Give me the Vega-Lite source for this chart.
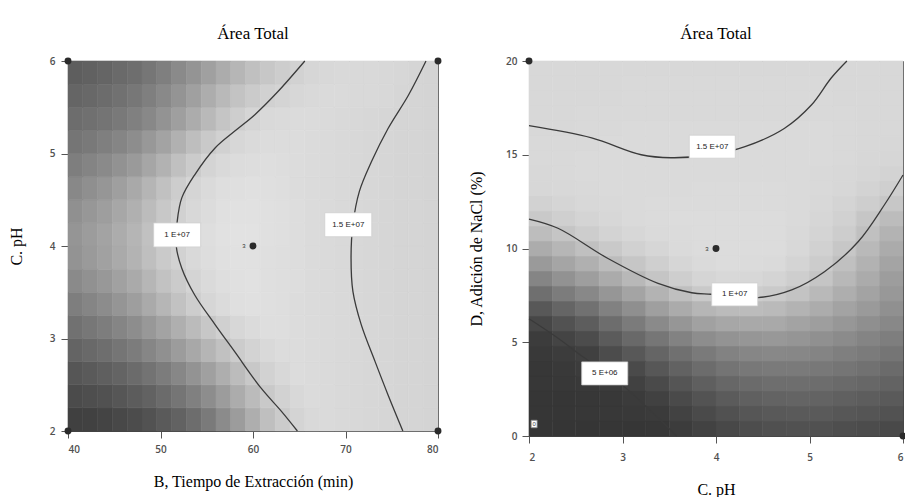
{
"$schema": "https://vega.github.io/schema/vega-lite/v6.json",
"padding": {"left": 8, "top": 25, "right": 0, "bottom": 0},
"background": "#ffffff",
"columns": 2,
"align": "none",
"spacing": 26,
"config": {
 "view": {"stroke": null},
 "font": "Liberation Sans",
 "title": {"font": "Liberation Serif", "fontSize": 17, "fontWeight": "normal", "color": "#000000"},
 "axis": {"grid": false, "domainColor": "#444444", "tickColor": "#555555", "labelColor": "#505050", "labelFont": "Open Sans", "labelFontSize": 10, "labelFontWeight": 600, "titleFont": "Liberation Serif", "titleFontSize": 16, "titleFontWeight": "normal", "titleColor": "#000000", "tickSize": 7, "zindex": 1}
},
"datasets": {
 "heatL": [
{"x":40.8,"y":2.125,"z":64},{"x":42.4,"y":2.125,"z":65},{"x":44,"y":2.125,"z":68},{"x":45.6,"y":2.125,"z":72},{"x":47.2,"y":2.125,"z":76},{"x":48.8,"y":2.125,"z":82},{"x":50.4,"y":2.125,"z":90},{"x":52,"y":2.125,"z":98},{"x":53.6,"y":2.125,"z":109},{"x":55.2,"y":2.125,"z":122},{"x":56.8,"y":2.125,"z":139},{"x":58.4,"y":2.125,"z":156},{"x":60,"y":2.125,"z":174},{"x":61.6,"y":2.125,"z":191},{"x":63.2,"y":2.125,"z":203},{"x":64.8,"y":2.125,"z":212},{"x":66.4,"y":2.125,"z":217},{"x":68,"y":2.125,"z":218},{"x":69.6,"y":2.125,"z":217},{"x":71.2,"y":2.125,"z":216},{"x":72.8,"y":2.125,"z":215},{"x":74.4,"y":2.125,"z":214},{"x":76,"y":2.125,"z":213},{"x":77.6,"y":2.125,"z":213},{"x":79.2,"y":2.125,"z":212},
{"x":40.8,"y":2.375,"z":75},{"x":42.4,"y":2.375,"z":78},{"x":44,"y":2.375,"z":81},{"x":45.6,"y":2.375,"z":86},{"x":47.2,"y":2.375,"z":92},{"x":48.8,"y":2.375,"z":98},{"x":50.4,"y":2.375,"z":107},{"x":52,"y":2.375,"z":117},{"x":53.6,"y":2.375,"z":128},{"x":55.2,"y":2.375,"z":141},{"x":56.8,"y":2.375,"z":156},{"x":58.4,"y":2.375,"z":172},{"x":60,"y":2.375,"z":187},{"x":61.6,"y":2.375,"z":201},{"x":63.2,"y":2.375,"z":210},{"x":64.8,"y":2.375,"z":216},{"x":66.4,"y":2.375,"z":219},{"x":68,"y":2.375,"z":218},{"x":69.6,"y":2.375,"z":217},{"x":71.2,"y":2.375,"z":216},{"x":72.8,"y":2.375,"z":215},{"x":74.4,"y":2.375,"z":214},{"x":76,"y":2.375,"z":213},{"x":77.6,"y":2.375,"z":213},{"x":79.2,"y":2.375,"z":212},
{"x":40.8,"y":2.625,"z":86},{"x":42.4,"y":2.625,"z":90},{"x":44,"y":2.625,"z":95},{"x":45.6,"y":2.625,"z":100},{"x":47.2,"y":2.625,"z":107},{"x":48.8,"y":2.625,"z":115},{"x":50.4,"y":2.625,"z":124},{"x":52,"y":2.625,"z":135},{"x":53.6,"y":2.625,"z":147},{"x":55.2,"y":2.625,"z":160},{"x":56.8,"y":2.625,"z":174},{"x":58.4,"y":2.625,"z":188},{"x":60,"y":2.625,"z":200},{"x":61.6,"y":2.625,"z":210},{"x":63.2,"y":2.625,"z":216},{"x":64.8,"y":2.625,"z":220},{"x":66.4,"y":2.625,"z":219},{"x":68,"y":2.625,"z":218},{"x":69.6,"y":2.625,"z":217},{"x":71.2,"y":2.625,"z":216},{"x":72.8,"y":2.625,"z":215},{"x":74.4,"y":2.625,"z":214},{"x":76,"y":2.625,"z":213},{"x":77.6,"y":2.625,"z":213},{"x":79.2,"y":2.625,"z":212},
{"x":40.8,"y":2.875,"z":100},{"x":42.4,"y":2.875,"z":105},{"x":44,"y":2.875,"z":110},{"x":45.6,"y":2.875,"z":117},{"x":47.2,"y":2.875,"z":124},{"x":48.8,"y":2.875,"z":134},{"x":50.4,"y":2.875,"z":144},{"x":52,"y":2.875,"z":156},{"x":53.6,"y":2.875,"z":168},{"x":55.2,"y":2.875,"z":181},{"x":56.8,"y":2.875,"z":193},{"x":58.4,"y":2.875,"z":204},{"x":60,"y":2.875,"z":211},{"x":61.6,"y":2.875,"z":217},{"x":63.2,"y":2.875,"z":220},{"x":64.8,"y":2.875,"z":220},{"x":66.4,"y":2.875,"z":219},{"x":68,"y":2.875,"z":218},{"x":69.6,"y":2.875,"z":217},{"x":71.2,"y":2.875,"z":216},{"x":72.8,"y":2.875,"z":215},{"x":74.4,"y":2.875,"z":214},{"x":76,"y":2.875,"z":213},{"x":77.6,"y":2.875,"z":213},{"x":79.2,"y":2.875,"z":212},
{"x":40.8,"y":3.125,"z":113},{"x":42.4,"y":3.125,"z":119},{"x":44,"y":3.125,"z":125},{"x":45.6,"y":3.125,"z":133},{"x":47.2,"y":3.125,"z":141},{"x":48.8,"y":3.125,"z":152},{"x":50.4,"y":3.125,"z":163},{"x":52,"y":3.125,"z":175},{"x":53.6,"y":3.125,"z":187},{"x":55.2,"y":3.125,"z":199},{"x":56.8,"y":3.125,"z":208},{"x":58.4,"y":3.125,"z":215},{"x":60,"y":3.125,"z":219},{"x":61.6,"y":3.125,"z":222},{"x":63.2,"y":3.125,"z":222},{"x":64.8,"y":3.125,"z":220},{"x":66.4,"y":3.125,"z":219},{"x":68,"y":3.125,"z":218},{"x":69.6,"y":3.125,"z":217},{"x":71.2,"y":3.125,"z":216},{"x":72.8,"y":3.125,"z":215},{"x":74.4,"y":3.125,"z":214},{"x":76,"y":3.125,"z":213},{"x":77.6,"y":3.125,"z":213},{"x":79.2,"y":3.125,"z":212},
{"x":40.8,"y":3.375,"z":126},{"x":42.4,"y":3.375,"z":133},{"x":44,"y":3.375,"z":140},{"x":45.6,"y":3.375,"z":149},{"x":47.2,"y":3.375,"z":158},{"x":48.8,"y":3.375,"z":170},{"x":50.4,"y":3.375,"z":182},{"x":52,"y":3.375,"z":194},{"x":53.6,"y":3.375,"z":205},{"x":55.2,"y":3.375,"z":214},{"x":56.8,"y":3.375,"z":219},{"x":58.4,"y":3.375,"z":223},{"x":60,"y":3.375,"z":224},{"x":61.6,"y":3.375,"z":223},{"x":63.2,"y":3.375,"z":222},{"x":64.8,"y":3.375,"z":220},{"x":66.4,"y":3.375,"z":219},{"x":68,"y":3.375,"z":218},{"x":69.6,"y":3.375,"z":217},{"x":71.2,"y":3.375,"z":216},{"x":72.8,"y":3.375,"z":215},{"x":74.4,"y":3.375,"z":214},{"x":76,"y":3.375,"z":213},{"x":77.6,"y":3.375,"z":213},{"x":79.2,"y":3.375,"z":212},
{"x":40.8,"y":3.625,"z":138},{"x":42.4,"y":3.625,"z":145},{"x":44,"y":3.625,"z":152},{"x":45.6,"y":3.625,"z":161},{"x":47.2,"y":3.625,"z":170},{"x":48.8,"y":3.625,"z":182},{"x":50.4,"y":3.625,"z":194},{"x":52,"y":3.625,"z":203},{"x":53.6,"y":3.625,"z":212},{"x":55.2,"y":3.625,"z":218},{"x":56.8,"y":3.625,"z":222},{"x":58.4,"y":3.625,"z":224},{"x":60,"y":3.625,"z":225},{"x":61.6,"y":3.625,"z":223},{"x":63.2,"y":3.625,"z":222},{"x":64.8,"y":3.625,"z":221},{"x":66.4,"y":3.625,"z":219},{"x":68,"y":3.625,"z":218},{"x":69.6,"y":3.625,"z":217},{"x":71.2,"y":3.625,"z":216},{"x":72.8,"y":3.625,"z":215},{"x":74.4,"y":3.625,"z":214},{"x":76,"y":3.625,"z":213},{"x":77.6,"y":3.625,"z":213},{"x":79.2,"y":3.625,"z":212},
{"x":40.8,"y":3.875,"z":147},{"x":42.4,"y":3.875,"z":154},{"x":44,"y":3.875,"z":161},{"x":45.6,"y":3.875,"z":170},{"x":47.2,"y":3.875,"z":179},{"x":48.8,"y":3.875,"z":191},{"x":50.4,"y":3.875,"z":202},{"x":52,"y":3.875,"z":210},{"x":53.6,"y":3.875,"z":217},{"x":55.2,"y":3.875,"z":221},{"x":56.8,"y":3.875,"z":224},{"x":58.4,"y":3.875,"z":225},{"x":60,"y":3.875,"z":225},{"x":61.6,"y":3.875,"z":223},{"x":63.2,"y":3.875,"z":222},{"x":64.8,"y":3.875,"z":221},{"x":66.4,"y":3.875,"z":219},{"x":68,"y":3.875,"z":218},{"x":69.6,"y":3.875,"z":217},{"x":71.2,"y":3.875,"z":216},{"x":72.8,"y":3.875,"z":215},{"x":74.4,"y":3.875,"z":214},{"x":76,"y":3.875,"z":213},{"x":77.6,"y":3.875,"z":213},{"x":79.2,"y":3.875,"z":212},
{"x":40.8,"y":4.125,"z":149},{"x":42.4,"y":4.125,"z":156},{"x":44,"y":4.125,"z":163},{"x":45.6,"y":4.125,"z":172},{"x":47.2,"y":4.125,"z":181},{"x":48.8,"y":4.125,"z":193},{"x":50.4,"y":4.125,"z":204},{"x":52,"y":4.125,"z":212},{"x":53.6,"y":4.125,"z":218},{"x":55.2,"y":4.125,"z":222},{"x":56.8,"y":4.125,"z":225},{"x":58.4,"y":4.125,"z":226},{"x":60,"y":4.125,"z":226},{"x":61.6,"y":4.125,"z":224},{"x":63.2,"y":4.125,"z":223},{"x":64.8,"y":4.125,"z":221},{"x":66.4,"y":4.125,"z":219},{"x":68,"y":4.125,"z":218},{"x":69.6,"y":4.125,"z":217},{"x":71.2,"y":4.125,"z":216},{"x":72.8,"y":4.125,"z":215},{"x":74.4,"y":4.125,"z":214},{"x":76,"y":4.125,"z":213},{"x":77.6,"y":4.125,"z":213},{"x":79.2,"y":4.125,"z":212},
{"x":40.8,"y":4.375,"z":144},{"x":42.4,"y":4.375,"z":151},{"x":44,"y":4.375,"z":158},{"x":45.6,"y":4.375,"z":167},{"x":47.2,"y":4.375,"z":176},{"x":48.8,"y":4.375,"z":188},{"x":50.4,"y":4.375,"z":200},{"x":52,"y":4.375,"z":209},{"x":53.6,"y":4.375,"z":216},{"x":55.2,"y":4.375,"z":220},{"x":56.8,"y":4.375,"z":224},{"x":58.4,"y":4.375,"z":225},{"x":60,"y":4.375,"z":225},{"x":61.6,"y":4.375,"z":224},{"x":63.2,"y":4.375,"z":223},{"x":64.8,"y":4.375,"z":221},{"x":66.4,"y":4.375,"z":219},{"x":68,"y":4.375,"z":218},{"x":69.6,"y":4.375,"z":217},{"x":71.2,"y":4.375,"z":216},{"x":72.8,"y":4.375,"z":215},{"x":74.4,"y":4.375,"z":214},{"x":76,"y":4.375,"z":213},{"x":77.6,"y":4.375,"z":213},{"x":79.2,"y":4.375,"z":212},
{"x":40.8,"y":4.625,"z":136},{"x":42.4,"y":4.625,"z":143},{"x":44,"y":4.625,"z":150},{"x":45.6,"y":4.625,"z":159},{"x":47.2,"y":4.625,"z":169},{"x":48.8,"y":4.625,"z":181},{"x":50.4,"y":4.625,"z":193},{"x":52,"y":4.625,"z":205},{"x":53.6,"y":4.625,"z":213},{"x":55.2,"y":4.625,"z":218},{"x":56.8,"y":4.625,"z":222},{"x":58.4,"y":4.625,"z":223},{"x":60,"y":4.625,"z":224},{"x":61.6,"y":4.625,"z":223},{"x":63.2,"y":4.625,"z":222},{"x":64.8,"y":4.625,"z":220},{"x":66.4,"y":4.625,"z":219},{"x":68,"y":4.625,"z":218},{"x":69.6,"y":4.625,"z":217},{"x":71.2,"y":4.625,"z":216},{"x":72.8,"y":4.625,"z":215},{"x":74.4,"y":4.625,"z":214},{"x":76,"y":4.625,"z":213},{"x":77.6,"y":4.625,"z":213},{"x":79.2,"y":4.625,"z":212},
{"x":40.8,"y":4.875,"z":126},{"x":42.4,"y":4.875,"z":132},{"x":44,"y":4.875,"z":138},{"x":45.6,"y":4.875,"z":146},{"x":47.2,"y":4.875,"z":154},{"x":48.8,"y":4.875,"z":166},{"x":50.4,"y":4.875,"z":178},{"x":52,"y":4.875,"z":192},{"x":53.6,"y":4.875,"z":203},{"x":55.2,"y":4.875,"z":212},{"x":56.8,"y":4.875,"z":217},{"x":58.4,"y":4.875,"z":220},{"x":60,"y":4.875,"z":221},{"x":61.6,"y":4.875,"z":222},{"x":63.2,"y":4.875,"z":221},{"x":64.8,"y":4.875,"z":220},{"x":66.4,"y":4.875,"z":219},{"x":68,"y":4.875,"z":218},{"x":69.6,"y":4.875,"z":217},{"x":71.2,"y":4.875,"z":216},{"x":72.8,"y":4.875,"z":215},{"x":74.4,"y":4.875,"z":214},{"x":76,"y":4.875,"z":213},{"x":77.6,"y":4.875,"z":213},{"x":79.2,"y":4.875,"z":212},
{"x":40.8,"y":5.125,"z":117},{"x":42.4,"y":5.125,"z":121},{"x":44,"y":5.125,"z":127},{"x":45.6,"y":5.125,"z":133},{"x":47.2,"y":5.125,"z":141},{"x":48.8,"y":5.125,"z":152},{"x":50.4,"y":5.125,"z":163},{"x":52,"y":5.125,"z":177},{"x":53.6,"y":5.125,"z":190},{"x":55.2,"y":5.125,"z":201},{"x":56.8,"y":5.125,"z":209},{"x":58.4,"y":5.125,"z":215},{"x":60,"y":5.125,"z":218},{"x":61.6,"y":5.125,"z":220},{"x":63.2,"y":5.125,"z":220},{"x":64.8,"y":5.125,"z":220},{"x":66.4,"y":5.125,"z":219},{"x":68,"y":5.125,"z":218},{"x":69.6,"y":5.125,"z":217},{"x":71.2,"y":5.125,"z":216},{"x":72.8,"y":5.125,"z":215},{"x":74.4,"y":5.125,"z":214},{"x":76,"y":5.125,"z":213},{"x":77.6,"y":5.125,"z":213},{"x":79.2,"y":5.125,"z":212},
{"x":40.8,"y":5.375,"z":109},{"x":42.4,"y":5.375,"z":112},{"x":44,"y":5.375,"z":116},{"x":45.6,"y":5.375,"z":121},{"x":47.2,"y":5.375,"z":128},{"x":48.8,"y":5.375,"z":136},{"x":50.4,"y":5.375,"z":147},{"x":52,"y":5.375,"z":159},{"x":53.6,"y":5.375,"z":172},{"x":55.2,"y":5.375,"z":185},{"x":56.8,"y":5.375,"z":197},{"x":58.4,"y":5.375,"z":206},{"x":60,"y":5.375,"z":213},{"x":61.6,"y":5.375,"z":217},{"x":63.2,"y":5.375,"z":218},{"x":64.8,"y":5.375,"z":219},{"x":66.4,"y":5.375,"z":219},{"x":68,"y":5.375,"z":218},{"x":69.6,"y":5.375,"z":217},{"x":71.2,"y":5.375,"z":216},{"x":72.8,"y":5.375,"z":215},{"x":74.4,"y":5.375,"z":214},{"x":76,"y":5.375,"z":213},{"x":77.6,"y":5.375,"z":213},{"x":79.2,"y":5.375,"z":212},
{"x":40.8,"y":5.625,"z":101},{"x":42.4,"y":5.625,"z":104},{"x":44,"y":5.625,"z":108},{"x":45.6,"y":5.625,"z":113},{"x":47.2,"y":5.625,"z":119},{"x":48.8,"y":5.625,"z":127},{"x":50.4,"y":5.625,"z":137},{"x":52,"y":5.625,"z":148},{"x":53.6,"y":5.625,"z":160},{"x":55.2,"y":5.625,"z":173},{"x":56.8,"y":5.625,"z":185},{"x":58.4,"y":5.625,"z":195},{"x":60,"y":5.625,"z":203},{"x":61.6,"y":5.625,"z":209},{"x":63.2,"y":5.625,"z":212},{"x":64.8,"y":5.625,"z":215},{"x":66.4,"y":5.625,"z":217},{"x":68,"y":5.625,"z":218},{"x":69.6,"y":5.625,"z":218},{"x":71.2,"y":5.625,"z":217},{"x":72.8,"y":5.625,"z":217},{"x":74.4,"y":5.625,"z":216},{"x":76,"y":5.625,"z":214},{"x":77.6,"y":5.625,"z":213},{"x":79.2,"y":5.625,"z":212},
{"x":40.8,"y":5.875,"z":94},{"x":42.4,"y":5.875,"z":97},{"x":44,"y":5.875,"z":101},{"x":45.6,"y":5.875,"z":106},{"x":47.2,"y":5.875,"z":110},{"x":48.8,"y":5.875,"z":118},{"x":50.4,"y":5.875,"z":127},{"x":52,"y":5.875,"z":138},{"x":53.6,"y":5.875,"z":148},{"x":55.2,"y":5.875,"z":160},{"x":56.8,"y":5.875,"z":172},{"x":58.4,"y":5.875,"z":182},{"x":60,"y":5.875,"z":192},{"x":61.6,"y":5.875,"z":199},{"x":63.2,"y":5.875,"z":205},{"x":64.8,"y":5.875,"z":210},{"x":66.4,"y":5.875,"z":214},{"x":68,"y":5.875,"z":216},{"x":69.6,"y":5.875,"z":217},{"x":71.2,"y":5.875,"z":217},{"x":72.8,"y":5.875,"z":217},{"x":74.4,"y":5.875,"z":216},{"x":76,"y":5.875,"z":215},{"x":77.6,"y":5.875,"z":213},{"x":79.2,"y":5.875,"z":212}
 ],
 "heatR": [
{"x":2.125,"y":0.4,"z":53},{"x":2.375,"y":0.4,"z":53},{"x":2.625,"y":0.4,"z":53},{"x":2.875,"y":0.4,"z":54},{"x":3.125,"y":0.4,"z":54},{"x":3.375,"y":0.4,"z":55},{"x":3.625,"y":0.4,"z":60},{"x":3.875,"y":0.4,"z":66},{"x":4.125,"y":0.4,"z":72},{"x":4.375,"y":0.4,"z":77},{"x":4.625,"y":0.4,"z":80},{"x":4.875,"y":0.4,"z":81},{"x":5.125,"y":0.4,"z":81},{"x":5.375,"y":0.4,"z":78},{"x":5.625,"y":0.4,"z":76},{"x":5.875,"y":0.4,"z":73},
{"x":2.125,"y":1.2,"z":54},{"x":2.375,"y":1.2,"z":54},{"x":2.625,"y":1.2,"z":55},{"x":2.875,"y":1.2,"z":56},{"x":3.125,"y":1.2,"z":57},{"x":3.375,"y":1.2,"z":59},{"x":3.625,"y":1.2,"z":66},{"x":3.875,"y":1.2,"z":74},{"x":4.125,"y":1.2,"z":81},{"x":4.375,"y":1.2,"z":86},{"x":4.625,"y":1.2,"z":89},{"x":4.875,"y":1.2,"z":90},{"x":5.125,"y":1.2,"z":90},{"x":5.375,"y":1.2,"z":87},{"x":5.625,"y":1.2,"z":85},{"x":5.875,"y":1.2,"z":82},
{"x":2.125,"y":2.0,"z":54},{"x":2.375,"y":2.0,"z":54},{"x":2.625,"y":2.0,"z":55},{"x":2.875,"y":2.0,"z":56},{"x":3.125,"y":2.0,"z":59},{"x":3.375,"y":2.0,"z":65},{"x":3.625,"y":2.0,"z":74},{"x":3.875,"y":2.0,"z":83},{"x":4.125,"y":2.0,"z":91},{"x":4.375,"y":2.0,"z":96},{"x":4.625,"y":2.0,"z":99},{"x":4.875,"y":2.0,"z":100},{"x":5.125,"y":2.0,"z":99},{"x":5.375,"y":2.0,"z":96},{"x":5.625,"y":2.0,"z":93},{"x":5.875,"y":2.0,"z":90},
{"x":2.125,"y":2.8,"z":55},{"x":2.375,"y":2.8,"z":56},{"x":2.625,"y":2.8,"z":57},{"x":2.875,"y":2.8,"z":59},{"x":3.125,"y":2.8,"z":65},{"x":3.375,"y":2.8,"z":74},{"x":3.625,"y":2.8,"z":85},{"x":3.875,"y":2.8,"z":95},{"x":4.125,"y":2.8,"z":103},{"x":4.375,"y":2.8,"z":107},{"x":4.625,"y":2.8,"z":110},{"x":4.875,"y":2.8,"z":110},{"x":5.125,"y":2.8,"z":109},{"x":5.375,"y":2.8,"z":106},{"x":5.625,"y":2.8,"z":103},{"x":5.875,"y":2.8,"z":99},
{"x":2.125,"y":3.6,"z":55},{"x":2.375,"y":3.6,"z":57},{"x":2.625,"y":3.6,"z":60},{"x":2.875,"y":3.6,"z":65},{"x":3.125,"y":3.6,"z":74},{"x":3.375,"y":3.6,"z":87},{"x":3.625,"y":3.6,"z":98},{"x":3.875,"y":3.6,"z":108},{"x":4.125,"y":3.6,"z":116},{"x":4.375,"y":3.6,"z":120},{"x":4.625,"y":3.6,"z":122},{"x":4.875,"y":3.6,"z":122},{"x":5.125,"y":3.6,"z":120},{"x":5.375,"y":3.6,"z":117},{"x":5.625,"y":3.6,"z":113},{"x":5.875,"y":3.6,"z":107},
{"x":2.125,"y":4.4,"z":57},{"x":2.375,"y":4.4,"z":60},{"x":2.625,"y":4.4,"z":64},{"x":2.875,"y":4.4,"z":76},{"x":3.125,"y":4.4,"z":88},{"x":3.375,"y":4.4,"z":101},{"x":3.625,"y":4.4,"z":112},{"x":3.875,"y":4.4,"z":122},{"x":4.125,"y":4.4,"z":130},{"x":4.375,"y":4.4,"z":134},{"x":4.625,"y":4.4,"z":136},{"x":4.875,"y":4.4,"z":135},{"x":5.125,"y":4.4,"z":132},{"x":5.375,"y":4.4,"z":127},{"x":5.625,"y":4.4,"z":123},{"x":5.875,"y":4.4,"z":117},
{"x":2.125,"y":5.2,"z":60},{"x":2.375,"y":5.2,"z":68},{"x":2.625,"y":5.2,"z":76},{"x":2.875,"y":5.2,"z":91},{"x":3.125,"y":5.2,"z":105},{"x":3.375,"y":5.2,"z":118},{"x":3.625,"y":5.2,"z":130},{"x":3.875,"y":5.2,"z":141},{"x":4.125,"y":5.2,"z":147},{"x":4.375,"y":5.2,"z":150},{"x":4.625,"y":5.2,"z":152},{"x":4.875,"y":5.2,"z":149},{"x":5.125,"y":5.2,"z":144},{"x":5.375,"y":5.2,"z":139},{"x":5.625,"y":5.2,"z":132},{"x":5.875,"y":5.2,"z":126},
{"x":2.125,"y":6.0,"z":71},{"x":2.375,"y":6.0,"z":82},{"x":2.625,"y":6.0,"z":93},{"x":2.875,"y":6.0,"z":109},{"x":3.125,"y":6.0,"z":123},{"x":3.375,"y":6.0,"z":138},{"x":3.625,"y":6.0,"z":150},{"x":3.875,"y":6.0,"z":161},{"x":4.125,"y":6.0,"z":167},{"x":4.375,"y":6.0,"z":169},{"x":4.625,"y":6.0,"z":169},{"x":4.875,"y":6.0,"z":163},{"x":5.125,"y":6.0,"z":158},{"x":5.375,"y":6.0,"z":151},{"x":5.625,"y":6.0,"z":143},{"x":5.875,"y":6.0,"z":136},
{"x":2.125,"y":6.8,"z":88},{"x":2.375,"y":6.8,"z":101},{"x":2.625,"y":6.8,"z":113},{"x":2.875,"y":6.8,"z":129},{"x":3.125,"y":6.8,"z":143},{"x":3.375,"y":6.8,"z":159},{"x":3.625,"y":6.8,"z":171},{"x":3.875,"y":6.8,"z":182},{"x":4.125,"y":6.8,"z":187},{"x":4.375,"y":6.8,"z":188},{"x":4.625,"y":6.8,"z":186},{"x":4.875,"y":6.8,"z":179},{"x":5.125,"y":6.8,"z":172},{"x":5.375,"y":6.8,"z":163},{"x":5.625,"y":6.8,"z":154},{"x":5.875,"y":6.8,"z":144},
{"x":2.125,"y":7.6,"z":111},{"x":2.375,"y":7.6,"z":124},{"x":2.625,"y":7.6,"z":136},{"x":2.875,"y":7.6,"z":150},{"x":3.125,"y":7.6,"z":164},{"x":3.375,"y":7.6,"z":179},{"x":3.625,"y":7.6,"z":191},{"x":3.875,"y":7.6,"z":201},{"x":4.125,"y":7.6,"z":206},{"x":4.375,"y":7.6,"z":205},{"x":4.625,"y":7.6,"z":202},{"x":4.875,"y":7.6,"z":195},{"x":5.125,"y":7.6,"z":185},{"x":5.375,"y":7.6,"z":174},{"x":5.625,"y":7.6,"z":163},{"x":5.875,"y":7.6,"z":152},
{"x":2.125,"y":8.4,"z":133},{"x":2.375,"y":8.4,"z":146},{"x":2.625,"y":8.4,"z":158},{"x":2.875,"y":8.4,"z":171},{"x":3.125,"y":8.4,"z":184},{"x":3.375,"y":8.4,"z":197},{"x":3.625,"y":8.4,"z":206},{"x":3.875,"y":8.4,"z":213},{"x":4.125,"y":8.4,"z":216},{"x":4.375,"y":8.4,"z":215},{"x":4.625,"y":8.4,"z":212},{"x":4.875,"y":8.4,"z":206},{"x":5.125,"y":8.4,"z":197},{"x":5.375,"y":8.4,"z":184},{"x":5.625,"y":8.4,"z":171},{"x":5.875,"y":8.4,"z":157},
{"x":2.125,"y":9.2,"z":154},{"x":2.375,"y":9.2,"z":165},{"x":2.625,"y":9.2,"z":176},{"x":2.875,"y":9.2,"z":188},{"x":3.125,"y":9.2,"z":198},{"x":3.375,"y":9.2,"z":207},{"x":3.625,"y":9.2,"z":214},{"x":3.875,"y":9.2,"z":218},{"x":4.125,"y":9.2,"z":220},{"x":4.375,"y":9.2,"z":219},{"x":4.625,"y":9.2,"z":218},{"x":4.875,"y":9.2,"z":212},{"x":5.125,"y":9.2,"z":204},{"x":5.375,"y":9.2,"z":192},{"x":5.625,"y":9.2,"z":178},{"x":5.875,"y":9.2,"z":164},
{"x":2.125,"y":10.0,"z":172},{"x":2.375,"y":10.0,"z":182},{"x":2.625,"y":10.0,"z":192},{"x":2.875,"y":10.0,"z":201},{"x":3.125,"y":10.0,"z":209},{"x":3.375,"y":10.0,"z":214},{"x":3.625,"y":10.0,"z":218},{"x":3.875,"y":10.0,"z":220},{"x":4.125,"y":10.0,"z":220},{"x":4.375,"y":10.0,"z":220},{"x":4.625,"y":10.0,"z":220},{"x":4.875,"y":10.0,"z":216},{"x":5.125,"y":10.0,"z":209},{"x":5.375,"y":10.0,"z":199},{"x":5.625,"y":10.0,"z":185},{"x":5.875,"y":10.0,"z":171},
{"x":2.125,"y":10.8,"z":189},{"x":2.375,"y":10.8,"z":197},{"x":2.625,"y":10.8,"z":205},{"x":2.875,"y":10.8,"z":211},{"x":3.125,"y":10.8,"z":215},{"x":3.375,"y":10.8,"z":218},{"x":3.625,"y":10.8,"z":219},{"x":3.875,"y":10.8,"z":220},{"x":4.125,"y":10.8,"z":220},{"x":4.375,"y":10.8,"z":220},{"x":4.625,"y":10.8,"z":220},{"x":4.875,"y":10.8,"z":217},{"x":5.125,"y":10.8,"z":212},{"x":5.375,"y":10.8,"z":205},{"x":5.625,"y":10.8,"z":192},{"x":5.875,"y":10.8,"z":179},
{"x":2.125,"y":11.6,"z":201},{"x":2.375,"y":11.6,"z":207},{"x":2.625,"y":11.6,"z":212},{"x":2.875,"y":11.6,"z":215},{"x":3.125,"y":11.6,"z":218},{"x":3.375,"y":11.6,"z":219},{"x":3.625,"y":11.6,"z":220},{"x":3.875,"y":11.6,"z":220},{"x":4.125,"y":11.6,"z":220},{"x":4.375,"y":11.6,"z":220},{"x":4.625,"y":11.6,"z":220},{"x":4.875,"y":11.6,"z":218},{"x":5.125,"y":11.6,"z":214},{"x":5.375,"y":11.6,"z":209},{"x":5.625,"y":11.6,"z":198},{"x":5.875,"y":11.6,"z":188},
{"x":2.125,"y":12.4,"z":210},{"x":2.375,"y":12.4,"z":213},{"x":2.625,"y":12.4,"z":216},{"x":2.875,"y":12.4,"z":217},{"x":3.125,"y":12.4,"z":218},{"x":3.375,"y":12.4,"z":219},{"x":3.625,"y":12.4,"z":219},{"x":3.875,"y":12.4,"z":219},{"x":4.125,"y":12.4,"z":219},{"x":4.375,"y":12.4,"z":219},{"x":4.625,"y":12.4,"z":219},{"x":4.875,"y":12.4,"z":218},{"x":5.125,"y":12.4,"z":216},{"x":5.375,"y":12.4,"z":212},{"x":5.625,"y":12.4,"z":206},{"x":5.875,"y":12.4,"z":199},
{"x":2.125,"y":13.2,"z":215},{"x":2.375,"y":13.2,"z":216},{"x":2.625,"y":13.2,"z":217},{"x":2.875,"y":13.2,"z":218},{"x":3.125,"y":13.2,"z":218},{"x":3.375,"y":13.2,"z":218},{"x":3.625,"y":13.2,"z":218},{"x":3.875,"y":13.2,"z":219},{"x":4.125,"y":13.2,"z":219},{"x":4.375,"y":13.2,"z":219},{"x":4.625,"y":13.2,"z":219},{"x":4.875,"y":13.2,"z":218},{"x":5.125,"y":13.2,"z":217},{"x":5.375,"y":13.2,"z":215},{"x":5.625,"y":13.2,"z":211},{"x":5.875,"y":13.2,"z":207},
{"x":2.125,"y":14.0,"z":216},{"x":2.375,"y":14.0,"z":217},{"x":2.625,"y":14.0,"z":218},{"x":2.875,"y":14.0,"z":218},{"x":3.125,"y":14.0,"z":218},{"x":3.375,"y":14.0,"z":218},{"x":3.625,"y":14.0,"z":218},{"x":3.875,"y":14.0,"z":218},{"x":4.125,"y":14.0,"z":218},{"x":4.375,"y":14.0,"z":218},{"x":4.625,"y":14.0,"z":218},{"x":4.875,"y":14.0,"z":218},{"x":5.125,"y":14.0,"z":217},{"x":5.375,"y":14.0,"z":216},{"x":5.625,"y":14.0,"z":214},{"x":5.875,"y":14.0,"z":211},
{"x":2.125,"y":14.8,"z":217},{"x":2.375,"y":14.8,"z":217},{"x":2.625,"y":14.8,"z":218},{"x":2.875,"y":14.8,"z":218},{"x":3.125,"y":14.8,"z":218},{"x":3.375,"y":14.8,"z":218},{"x":3.625,"y":14.8,"z":218},{"x":3.875,"y":14.8,"z":218},{"x":4.125,"y":14.8,"z":218},{"x":4.375,"y":14.8,"z":218},{"x":4.625,"y":14.8,"z":218},{"x":4.875,"y":14.8,"z":218},{"x":5.125,"y":14.8,"z":218},{"x":5.375,"y":14.8,"z":217},{"x":5.625,"y":14.8,"z":215},{"x":5.875,"y":14.8,"z":214},
{"x":2.125,"y":15.6,"z":217},{"x":2.375,"y":15.6,"z":217},{"x":2.625,"y":15.6,"z":217},{"x":2.875,"y":15.6,"z":218},{"x":3.125,"y":15.6,"z":218},{"x":3.375,"y":15.6,"z":218},{"x":3.625,"y":15.6,"z":218},{"x":3.875,"y":15.6,"z":218},{"x":4.125,"y":15.6,"z":218},{"x":4.375,"y":15.6,"z":218},{"x":4.625,"y":15.6,"z":218},{"x":4.875,"y":15.6,"z":218},{"x":5.125,"y":15.6,"z":218},{"x":5.375,"y":15.6,"z":217},{"x":5.625,"y":15.6,"z":216},{"x":5.875,"y":15.6,"z":215},
{"x":2.125,"y":16.4,"z":216},{"x":2.375,"y":16.4,"z":216},{"x":2.625,"y":16.4,"z":217},{"x":2.875,"y":16.4,"z":217},{"x":3.125,"y":16.4,"z":218},{"x":3.375,"y":16.4,"z":218},{"x":3.625,"y":16.4,"z":218},{"x":3.875,"y":16.4,"z":218},{"x":4.125,"y":16.4,"z":218},{"x":4.375,"y":16.4,"z":218},{"x":4.625,"y":16.4,"z":218},{"x":4.875,"y":16.4,"z":218},{"x":5.125,"y":16.4,"z":218},{"x":5.375,"y":16.4,"z":217},{"x":5.625,"y":16.4,"z":216},{"x":5.875,"y":16.4,"z":216},
{"x":2.125,"y":17.2,"z":216},{"x":2.375,"y":17.2,"z":216},{"x":2.625,"y":17.2,"z":217},{"x":2.875,"y":17.2,"z":217},{"x":3.125,"y":17.2,"z":217},{"x":3.375,"y":17.2,"z":217},{"x":3.625,"y":17.2,"z":217},{"x":3.875,"y":17.2,"z":217},{"x":4.125,"y":17.2,"z":217},{"x":4.375,"y":17.2,"z":217},{"x":4.625,"y":17.2,"z":217},{"x":4.875,"y":17.2,"z":217},{"x":5.125,"y":17.2,"z":217},{"x":5.375,"y":17.2,"z":217},{"x":5.625,"y":17.2,"z":216},{"x":5.875,"y":17.2,"z":216},
{"x":2.125,"y":18.0,"z":216},{"x":2.375,"y":18.0,"z":216},{"x":2.625,"y":18.0,"z":216},{"x":2.875,"y":18.0,"z":216},{"x":3.125,"y":18.0,"z":217},{"x":3.375,"y":18.0,"z":217},{"x":3.625,"y":18.0,"z":217},{"x":3.875,"y":18.0,"z":217},{"x":4.125,"y":18.0,"z":217},{"x":4.375,"y":18.0,"z":217},{"x":4.625,"y":18.0,"z":217},{"x":4.875,"y":18.0,"z":217},{"x":5.125,"y":18.0,"z":217},{"x":5.375,"y":18.0,"z":216},{"x":5.625,"y":18.0,"z":216},{"x":5.875,"y":18.0,"z":216},
{"x":2.125,"y":18.8,"z":216},{"x":2.375,"y":18.8,"z":216},{"x":2.625,"y":18.8,"z":216},{"x":2.875,"y":18.8,"z":216},{"x":3.125,"y":18.8,"z":217},{"x":3.375,"y":18.8,"z":217},{"x":3.625,"y":18.8,"z":217},{"x":3.875,"y":18.8,"z":217},{"x":4.125,"y":18.8,"z":217},{"x":4.375,"y":18.8,"z":217},{"x":4.625,"y":18.8,"z":217},{"x":4.875,"y":18.8,"z":217},{"x":5.125,"y":18.8,"z":217},{"x":5.375,"y":18.8,"z":216},{"x":5.625,"y":18.8,"z":216},{"x":5.875,"y":18.8,"z":216},
{"x":2.125,"y":19.6,"z":216},{"x":2.375,"y":19.6,"z":216},{"x":2.625,"y":19.6,"z":216},{"x":2.875,"y":19.6,"z":216},{"x":3.125,"y":19.6,"z":216},{"x":3.375,"y":19.6,"z":216},{"x":3.625,"y":19.6,"z":216},{"x":3.875,"y":19.6,"z":216},{"x":4.125,"y":19.6,"z":216},{"x":4.375,"y":19.6,"z":216},{"x":4.625,"y":19.6,"z":216},{"x":4.875,"y":19.6,"z":216},{"x":5.125,"y":19.6,"z":216},{"x":5.375,"y":19.6,"z":216},{"x":5.625,"y":19.6,"z":216},{"x":5.875,"y":19.6,"z":216}
 ],
 "lineL": [
  {"c":"1E+07","i":0,"x":65.6,"y":6.0},{"c":"1E+07","i":1,"x":62.7,"y":5.67},{"c":"1E+07","i":2,"x":60.2,"y":5.42},{"c":"1E+07","i":3,"x":58.0,"y":5.24},{"c":"1E+07","i":4,"x":55.9,"y":5.06},{"c":"1E+07","i":5,"x":53.7,"y":4.77},{"c":"1E+07","i":6,"x":52.3,"y":4.52},{"c":"1E+07","i":7,"x":51.8,"y":4.26},{"c":"1E+07","i":8,"x":51.7,"y":4.0},{"c":"1E+07","i":9,"x":52.3,"y":3.76},{"c":"1E+07","i":10,"x":53.7,"y":3.47},{"c":"1E+07","i":11,"x":55.9,"y":3.15},{"c":"1E+07","i":12,"x":58.0,"y":2.86},{"c":"1E+07","i":13,"x":60.9,"y":2.46},{"c":"1E+07","i":14,"x":63.1,"y":2.21},{"c":"1E+07","i":15,"x":64.8,"y":2.0},
  {"c":"1.5E+07","i":0,"x":78.7,"y":6.0},{"c":"1.5E+07","i":1,"x":76.8,"y":5.63},{"c":"1.5E+07","i":2,"x":74.6,"y":5.27},{"c":"1.5E+07","i":3,"x":72.8,"y":4.91},{"c":"1.5E+07","i":4,"x":71.5,"y":4.59},{"c":"1.5E+07","i":5,"x":70.8,"y":4.23},{"c":"1.5E+07","i":6,"x":70.6,"y":3.87},{"c":"1.5E+07","i":7,"x":70.8,"y":3.51},{"c":"1.5E+07","i":8,"x":71.7,"y":3.15},{"c":"1.5E+07","i":9,"x":73.2,"y":2.75},{"c":"1.5E+07","i":10,"x":74.6,"y":2.39},{"c":"1.5E+07","i":11,"x":76.2,"y":2.0}
 ],
 "lineR": [
  {"c":"1.5E+07","i":0,"x":2.0,"y":16.55},{"c":"1.5E+07","i":1,"x":2.67,"y":15.9},{"c":"1.5E+07","i":2,"x":3.2,"y":15.0},{"c":"1.5E+07","i":3,"x":3.52,"y":14.84},{"c":"1.5E+07","i":4,"x":3.96,"y":15.0},{"c":"1.5E+07","i":5,"x":4.31,"y":15.43},{"c":"1.5E+07","i":6,"x":4.73,"y":16.4},{"c":"1.5E+07","i":7,"x":5.02,"y":17.65},{"c":"1.5E+07","i":8,"x":5.23,"y":19.08},{"c":"1.5E+07","i":9,"x":5.4,"y":20.0},
  {"c":"1E+07","i":0,"x":2.0,"y":11.57},{"c":"1E+07","i":1,"x":2.31,"y":11.08},{"c":"1E+07","i":2,"x":2.84,"y":9.48},{"c":"1E+07","i":3,"x":3.38,"y":8.14},{"c":"1E+07","i":4,"x":3.74,"y":7.64},{"c":"1E+07","i":5,"x":3.95,"y":7.56},{"c":"1E+07","i":6,"x":4.45,"y":7.38},{"c":"1E+07","i":7,"x":4.81,"y":7.79},{"c":"1E+07","i":8,"x":5.16,"y":8.76},{"c":"1E+07","i":9,"x":5.52,"y":10.36},{"c":"1E+07","i":10,"x":5.8,"y":12.32},{"c":"1E+07","i":11,"x":6.0,"y":13.92},
  {"c":"5E+06","i":0,"x":2.0,"y":6.25},{"c":"5E+06","i":1,"x":2.3,"y":5.25},{"c":"5E+06","i":2,"x":2.55,"y":4.32},{"c":"5E+06","i":3,"x":2.8,"y":3.45},{"c":"5E+06","i":4,"x":3.04,"y":2.54},{"c":"5E+06","i":5,"x":3.3,"y":1.35},{"c":"5E+06","i":6,"x":3.58,"y":0.0}
 ],
 "labL": [{"x":51.8,"y":4.12,"t":"1 E+07"},{"x":70.3,"y":4.23,"t":"1.5 E+07"}],
 "labR": [{"x":3.96,"y":15.43,"t":"1.5 E+07"},{"x":4.2,"y":7.55,"t":"1 E+07"},{"x":2.81,"y":3.34,"t":"5 E+06"}],
 "ptsL": [{"x":40,"y":6,"n":""},{"x":80,"y":6,"n":""},{"x":40,"y":2,"n":""},{"x":80,"y":2,"n":""},{"x":60,"y":4,"n":"3"}],
 "ptsR": [{"x":2,"y":20,"n":""},{"x":6,"y":0,"n":""},{"x":4,"y":10,"n":"3"}],
 "zeroR": [{"x":2.055,"y":0.64,"t":"0"}]
},
"concat": [
 {
  "width": 370, "height": 370,
  "title": {"text": "Área Total", "offset": 13},
  "layer": [
   {
    "data": {"name": "heatL"},
    "mark": {"type": "rect", "strokeWidth": 0.6},
    "encoding": {
     "x": {"field": "x", "type": "ordinal", "scale": {"paddingInner": 0, "paddingOuter": 0}, "axis": {"orient": "top", "labels": false, "ticks": false, "title": null, "domainColor": "#444444"}},
     "y": {"field": "y", "type": "ordinal", "sort": "descending", "scale": {"paddingInner": 0, "paddingOuter": 0}, "axis": {"orient": "right", "labels": false, "ticks": false, "title": null, "domainColor": "#444444"}},
     "fill": {"field": "z", "type": "quantitative", "scale": {"domain": [0, 255], "range": ["#000000", "#ffffff"], "interpolate": "rgb"}, "legend": null},
     "stroke": {"field": "z", "type": "quantitative", "scale": {"domain": [0, 255], "range": ["#000000", "#ffffff"], "interpolate": "rgb"}, "legend": null}
    }
   },
   {
    "encoding": {
     "x": {"field": "x", "type": "quantitative", "scale": {"domain": [40, 80], "nice": false, "zero": false}, "axis": {"orient": "bottom", "values": [40, 50, 60, 70, 80], "title": "B, Tiempo de Extracción (min)", "labelPadding": 6, "titlePadding": 19}},
     "y": {"field": "y", "type": "quantitative", "scale": {"domain": [2, 6], "nice": false, "zero": false}, "axis": {"orient": "left", "values": [2, 3, 4, 5, 6], "title": "C. pH", "labelPadding": 6, "titlePadding": 25}}
    },
    "layer": [
     {"data": {"name": "lineL"}, "mark": {"type": "line", "interpolate": "catmull-rom", "color": "#3a3a3a", "strokeWidth": 1.3}, "encoding": {"detail": {"field": "c"}, "order": {"field": "i"}}},
     {"data": {"name": "labL"}, "mark": {"type": "point", "shape": "M-1,-0.51H1V0.51H-1Z", "filled": true, "fill": "#ffffff", "stroke": "#cfcfcf", "strokeWidth": 0.8, "size": 2209, "opacity": 1}},
     {"data": {"name": "labL"}, "mark": {"type": "text", "font": "Liberation Sans", "fontSize": 8, "color": "#222222"}, "encoding": {"text": {"field": "t"}}},
     {"data": {"name": "ptsL"}, "mark": {"type": "circle", "color": "#2b2b2b", "opacity": 1, "size": 48}},
     {"data": {"name": "ptsL"}, "mark": {"type": "text", "fontSize": 6, "dx": -9, "color": "#333333"}, "encoding": {"text": {"field": "n"}}}
    ]
   }
  ],
  "resolve": {"scale": {"x": "independent", "y": "independent"}}
 },
 {
  "width": 374, "height": 375,
  "title": {"text": "Área Total", "offset": 13},
  "layer": [
   {
    "data": {"name": "heatR"},
    "mark": {"type": "rect", "strokeWidth": 0.6},
    "encoding": {
     "x": {"field": "x", "type": "ordinal", "scale": {"paddingInner": 0, "paddingOuter": 0}, "axis": {"orient": "top", "labels": false, "ticks": false, "title": null, "domainColor": "#444444"}},
     "y": {"field": "y", "type": "ordinal", "sort": "descending", "scale": {"paddingInner": 0, "paddingOuter": 0}, "axis": {"orient": "right", "labels": false, "ticks": false, "title": null, "domainColor": "#444444"}},
     "fill": {"field": "z", "type": "quantitative", "scale": {"domain": [0, 255], "range": ["#000000", "#ffffff"], "interpolate": "rgb"}, "legend": null},
     "stroke": {"field": "z", "type": "quantitative", "scale": {"domain": [0, 255], "range": ["#000000", "#ffffff"], "interpolate": "rgb"}, "legend": null}
    }
   },
   {
    "encoding": {
     "x": {"field": "x", "type": "quantitative", "scale": {"domain": [2, 6], "nice": false, "zero": false}, "axis": {"orient": "bottom", "values": [2, 3, 4, 5, 6], "title": "C. pH", "labelPadding": 9, "titlePadding": 19}},
     "y": {"field": "y", "type": "quantitative", "scale": {"domain": [0, 20], "nice": false, "zero": false}, "axis": {"orient": "left", "values": [0, 5, 10, 15, 20], "title": "D, Adición de NaCl (%)", "labelPadding": 5, "titlePadding": 21}}
    },
    "layer": [
     {"data": {"name": "lineR"}, "mark": {"type": "line", "interpolate": "catmull-rom", "color": "#3a3a3a", "strokeWidth": 1.3}, "encoding": {"detail": {"field": "c"}, "order": {"field": "i"}}},
     {"data": {"name": "labR"}, "mark": {"type": "point", "shape": "M-1,-0.5H1V0.5H-1Z", "filled": true, "fill": "#ffffff", "stroke": "#cfcfcf", "strokeWidth": 0.8, "size": 2116, "opacity": 1}},
     {"data": {"name": "labR"}, "mark": {"type": "text", "font": "Liberation Sans", "fontSize": 8, "color": "#222222"}, "encoding": {"text": {"field": "t"}}},
     {"data": {"name": "zeroR"}, "mark": {"type": "point", "shape": "M-0.8,-1H0.8V1H-0.8Z", "filled": true, "fill": "#ffffff", "stroke": "#888888", "strokeWidth": 0.8, "size": 56, "opacity": 1}},
     {"data": {"name": "zeroR"}, "mark": {"type": "text", "font": "Liberation Sans", "fontSize": 6, "color": "#444444"}, "encoding": {"text": {"field": "t"}}},
     {"data": {"name": "ptsR"}, "mark": {"type": "circle", "color": "#2b2b2b", "opacity": 1, "size": 48}},
     {"data": {"name": "ptsR"}, "mark": {"type": "text", "fontSize": 6, "dx": -9, "color": "#333333"}, "encoding": {"text": {"field": "n"}}}
    ]
   }
  ],
  "resolve": {"scale": {"x": "independent", "y": "independent"}}
 }
]
}
